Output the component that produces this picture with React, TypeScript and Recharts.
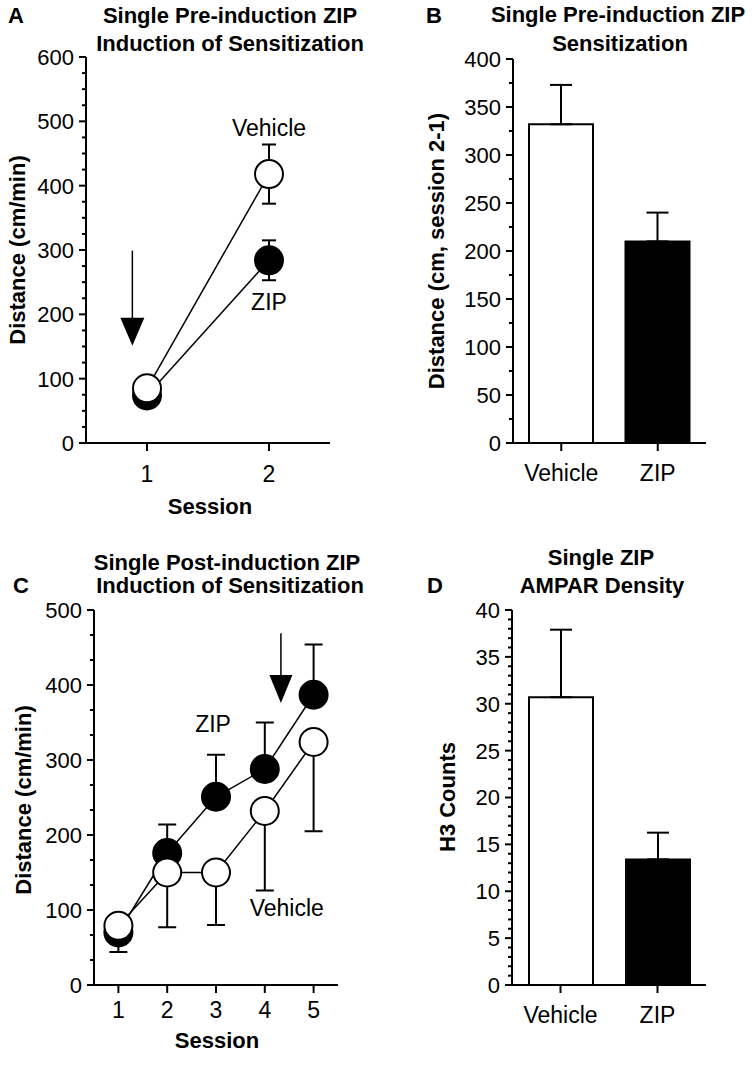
import React from "react";
import {
  LineChart,
  Line,
  BarChart,
  Bar,
  Cell,
  XAxis,
  YAxis,
  ErrorBar,
  ReferenceLine,
  ReferenceDot,
} from "recharts";

const FONT = "'Liberation Sans', Arial, Helvetica, sans-serif";

// Panel A - single pre-induction ZIP, induction of sensitization
const sessionsA = [1, 2];
const vehicleA = [85, 418];
const vehicleErrA = [18, 46];
const zipA = [74, 284];
const zipErrA = [12, 31];
const yMajorA = [0, 100, 200, 300, 400, 500, 600];

// Panel B - single pre-induction ZIP, sensitization (session 2-1)
const groupsB = ["Vehicle", "ZIP"];
const sensB = [332, 210];
const sensErrB = [41, 30];
const yMajorB = [0, 50, 100, 150, 200, 250, 300, 350, 400];

// Panel C - single post-induction ZIP
const sessionsC = [1, 2, 3, 4, 5];
const vehicleC = [79, 150, 150, 232, 324];
const vehicleErrC = [35, 73, 70, 106, 119];
const zipC = [70, 176, 251, 288, 387];
const zipErrC = [15, 38, 56, 62, 67];
const yMajorC = [0, 100, 200, 300, 400, 500];

// Panel D - AMPAR density
const groupsD = ["Vehicle", "ZIP"];
const countsD = [30.7, 13.4];
const countsErrD = [7.2, 2.85];
const yMajorD = [0, 5, 10, 15, 20, 25, 30, 35, 40];

const barFills = ["#ffffff", "#000000"];

// majors plus evenly spaced minor ticks between them
function withMinor(majors: number[], parts: number) {
  const out: number[] = [];
  for (let i = 0; i < majors.length - 1; i++) {
    for (let k = 0; k < parts; k++) {
      out.push(k === 0 ? majors[i] : majors[i] + ((majors[i + 1] - majors[i]) * k) / parts);
    }
  }
  out.push(majors[majors.length - 1]);
  return out;
}

const YTick = (props: any) => {
  const { x, y, payload, majors } = props;
  const isMajor = majors.includes(payload.value);
  return (
    <g>
      <line x1={x} x2={x - (isMajor ? 7 : 4)} y1={y} y2={y} stroke="#000" strokeWidth={2} />
      {isMajor && (
        <text x={x - 12} y={y} dy="0.36em" textAnchor="end" fontSize={22} fontFamily={FONT} fill="#000">
          {payload.value}
        </text>
      )}
    </g>
  );
};

const XTick = (props: any) => {
  const { x, y, payload, labelDy } = props;
  return (
    <g>
      <line x1={x} x2={x} y1={y} y2={y + 8} stroke="#000" strokeWidth={2} />
      <text x={x} y={y + labelDy} textAnchor="middle" fontSize={23} fontFamily={FONT} fill="#000">
        {payload.value}
      </text>
    </g>
  );
};

const arrowHead = (w: number, h: number) => (p: any) =>
  (
    <polygon
      points={`${p.cx},${p.cy} ${p.cx - w / 2},${p.cy - h} ${p.cx + w / 2},${p.cy - h}`}
      fill="#000"
    />
  );

const note = (text: string) => (p: any) =>
  (
    <text x={p.cx} y={p.cy} dy="0.36em" textAnchor="middle" fontSize={23} fontFamily={FONT} fill="#000">
      {text}
    </text>
  );

const axisStyle = { stroke: "#000", strokeWidth: 2 };

const dataA = sessionsA.map((s, i) => ({
  session: s,
  vehicle: vehicleA[i],
  vehicleErr: vehicleErrA[i],
  zip: zipA[i],
  zipErr: zipErrA[i],
}));

const dataB = groupsB.map((g, i) => ({ group: g, value: sensB[i], err: [0, sensErrB[i]] }));

const dataC = sessionsC.map((s, i) => ({
  session: s,
  vehicle: vehicleC[i],
  vehicleErr: [vehicleErrC[i], 0],
  zip: zipC[i],
  zipErr: [0, zipErrC[i]],
}));

const dataD = groupsD.map((g, i) => ({ group: g, value: countsD[i], err: [0, countsErrD[i]] }));

// Line panels are two stacked charts with identical geometry:
// the bottom one has the axes and error bars, the top one the lines and circles,
// so the circles cover the error bars like in the original.
function LinePanel({ data, width, height, margin, xDomain, xTicks, yDomain, yMajors, parts, labelDy, cap, top, extras }: any) {
  const axes = (visible: boolean) => [
    <XAxis
      key="x"
      dataKey="session"
      type="number"
      domain={xDomain}
      ticks={xTicks}
      height={30}
      axisLine={visible ? axisStyle : false}
      tickLine={false}
      tickSize={0}
      tickMargin={0}
      interval={0}
      tick={visible ? (p: any) => <XTick {...p} labelDy={labelDy} /> : false}
    />,
    <YAxis
      key="y"
      type="number"
      domain={yDomain}
      ticks={withMinor(yMajors, parts)}
      width={50}
      axisLine={visible ? axisStyle : false}
      tickLine={false}
      tickSize={0}
      tickMargin={0}
      interval={0}
      tick={visible ? (p: any) => <YTick {...p} majors={yMajors} /> : false}
    />,
  ];
  // ErrorBar width is the half-width of the cap
  const errLine = (key: string, errKey: string) => (
    <Line key={key} dataKey={key} stroke="none" dot={false} activeDot={false} isAnimationActive={false}>
      <ErrorBar dataKey={errKey} direction="y" width={cap} stroke="#000" strokeWidth={2} />
    </Line>
  );
  const dotLine = (key: string, fill: string) => (
    <Line
      key={key}
      dataKey={key}
      stroke="#000"
      strokeWidth={1.5}
      dot={{ r: 14, fill, stroke: "#000", strokeWidth: 2 }}
      activeDot={false}
      isAnimationActive={false}
    />
  );
  return (
    <div style={{ position: "absolute", left: top.left, top: top.top, width, height }}>
      <div style={{ position: "absolute", left: 0, top: 0 }}>
        <LineChart width={width} height={height} data={data} margin={margin}>
          {axes(true)}
          {errLine("zip", "zipErr")}
          {errLine("vehicle", "vehicleErr")}
        </LineChart>
      </div>
      <div style={{ position: "absolute", left: 0, top: 0 }}>
        <LineChart width={width} height={height} data={data} margin={margin}>
          {axes(false)}
          {extras}
          {dotLine("zip", "#000")}
          {dotLine("vehicle", "#fff")}
        </LineChart>
      </div>
    </div>
  );
}

function BarPanel({ data, height, domain, majors, parts, labelDy, margin }: any) {
  return (
    <BarChart width={378} height={height} data={data} margin={margin} barSize={64}>
      <XAxis
        dataKey="group"
        type="category"
        height={30}
        axisLine={axisStyle}
        tickLine={false}
        tickSize={0}
        tickMargin={0}
        interval={0}
        tick={(p: any) => <XTick {...p} labelDy={labelDy} />}
      />
      <YAxis
        type="number"
        domain={domain}
        ticks={withMinor(majors, parts)}
        width={50}
        axisLine={axisStyle}
        tickLine={false}
        tickSize={0}
        tickMargin={0}
        interval={0}
        tick={(p: any) => <YTick {...p} majors={majors} />}
      />
      <Bar dataKey="value" stroke="#000" strokeWidth={2} isAnimationActive={false}>
        {data.map((d: any, i: number) => (
          <Cell key={d.group} fill={barFills[i]} />
        ))}
        <ErrorBar dataKey="err" direction="y" width={11} stroke="#000" strokeWidth={2} />
      </Bar>
    </BarChart>
  );
}

const bold = { fontSize: 22, fontWeight: 700, fontFamily: FONT, fill: "#000" } as const;

function Labels() {
  return (
    <svg width={756} height={1072} style={{ position: "absolute", left: 0, top: 0, pointerEvents: "none" }}>
      {/* panel letters */}
      <text x={8} y={23} {...bold}>A</text>
      <text x={426} y={23} {...bold}>B</text>
      <text x={13} y={593} {...bold}>C</text>
      <text x={427} y={593} {...bold}>D</text>

      {/* titles */}
      <text x={230} y={23} textAnchor="middle" {...bold}>Single Pre-induction ZIP</text>
      <text x={230} y={51} textAnchor="middle" {...bold}>Induction of Sensitization</text>
      <text x={618} y={22} textAnchor="middle" {...bold}>Single Pre-induction ZIP</text>
      <text x={620} y={51} textAnchor="middle" {...bold}>Sensitization</text>
      <text x={227} y={570} textAnchor="middle" {...bold}>Single Post-induction ZIP</text>
      <text x={230} y={593} textAnchor="middle" {...bold}>Induction of Sensitization</text>
      <text x={601} y={565} textAnchor="middle" {...bold}>Single ZIP</text>
      <text x={602} y={593} textAnchor="middle" {...bold}>AMPAR Density</text>

      {/* axis titles */}
      <text x={210} y={514} textAnchor="middle" {...bold}>Session</text>
      <text x={217} y={1048} textAnchor="middle" {...bold}>Session</text>
      <text transform="translate(17,250) rotate(-90)" dy="0.36em" textAnchor="middle" {...bold}>
        Distance (cm/min)
      </text>
      <text transform="translate(436,251) rotate(-90)" dy="0.36em" textAnchor="middle" {...bold}>
        Distance (cm, session 2-1)
      </text>
      <text transform="translate(23,800) rotate(-90)" dy="0.36em" textAnchor="middle" {...bold}>
        Distance (cm/min)
      </text>
      <text transform="translate(447,797) rotate(-90)" dy="0.36em" textAnchor="middle" {...bold}>
        H3 Counts
      </text>
    </svg>
  );
}

export default function App() {
  return (
    <div style={{ position: "absolute", left: 0, top: 0, width: 756, height: 1072, background: "#fff" }}>
      <LinePanel
        top={{ left: 0, top: 0 }}
        width={378}
        height={530}
        data={dataA}
        margin={{ top: 57, right: 48, bottom: 57, left: 36 }}
        xDomain={[0.5, 2.5]}
        xTicks={sessionsA}
        yDomain={[0, 600]}
        yMajors={yMajorA}
        parts={4}
        labelDy={39}
        cap={7}
        extras={[
          <ReferenceLine key="shaft" segment={[{ x: 0.88, y: 299 }, { x: 0.88, y: 192 }]} stroke="#000" strokeWidth={1.5} />,
          <ReferenceDot key="head" x={0.88} y={151} shape={arrowHead(24, 28)} ifOverflow="visible" />,
          <ReferenceDot key="veh" x={2} y={490} shape={note("Vehicle")} ifOverflow="visible" />,
          <ReferenceDot key="zip" x={2} y={220} shape={note("ZIP")} ifOverflow="visible" />,
        ]}
      />
      <div style={{ position: "absolute", left: 378, top: 0 }}>
        <BarPanel
          data={dataB}
          height={530}
          domain={[0, 400]}
          majors={yMajorB}
          parts={2}
          labelDy={38}
          margin={{ top: 59, right: 50, bottom: 57, left: 85 }}
        />
      </div>
      <LinePanel
        top={{ left: 0, top: 530 }}
        width={378}
        height={542}
        data={dataC}
        margin={{ top: 80, right: 40, bottom: 57, left: 44 }}
        xDomain={[0.5, 5.5]}
        xTicks={sessionsC}
        yDomain={[0, 500]}
        yMajors={yMajorC}
        parts={3}
        labelDy={33}
        cap={9}
        extras={[
          <ReferenceLine key="shaft" segment={[{ x: 4.33, y: 469 }, { x: 4.33, y: 410 }]} stroke="#000" strokeWidth={1.5} />,
          <ReferenceDot key="head" x={4.33} y={376} shape={arrowHead(23, 28)} ifOverflow="visible" />,
          <ReferenceDot key="zip" x={2.94} y={349} shape={note("ZIP")} ifOverflow="visible" />,
          <ReferenceDot key="veh" x={4.45} y={103} shape={note("Vehicle")} ifOverflow="visible" />,
        ]}
      />
      <div style={{ position: "absolute", left: 378, top: 530 }}>
        <BarPanel
          data={dataD}
          height={542}
          domain={[0, 40]}
          majors={yMajorD}
          parts={5}
          labelDy={38}
          margin={{ top: 80, right: 50, bottom: 57, left: 84 }}
        />
      </div>
      <Labels />
    </div>
  );
}
